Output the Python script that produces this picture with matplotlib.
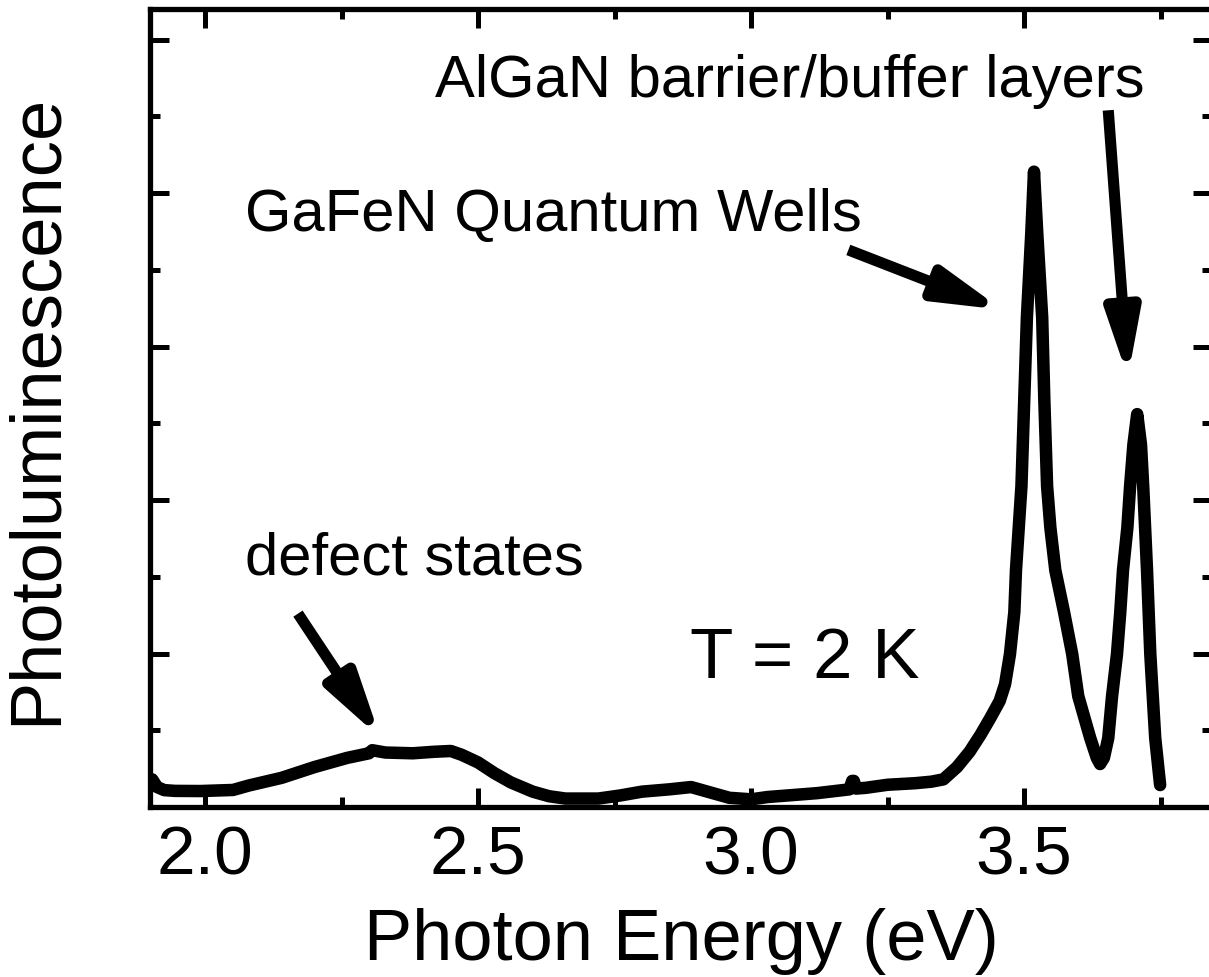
import numpy as np
import matplotlib
matplotlib.use("Agg")
import matplotlib.pyplot as plt
from matplotlib.ticker import MultipleLocator, NullFormatter

plt.rcParams['font.family'] = ['Liberation Sans', 'DejaVu Sans']

# PL spectrum (eV, arb. units)
energy = [1.903, 1.912, 1.925, 1.945, 1.991, 2.051, 2.080, 2.140, 2.200, 2.260,
          2.300, 2.306, 2.330, 2.380, 2.420, 2.450, 2.470, 2.500, 2.530, 2.560,
          2.600, 2.630, 2.660, 2.720, 2.760, 2.800, 2.850, 2.890, 2.920, 2.960,
          3.000, 3.030, 3.120, 3.180, 3.185, 3.188, 3.192, 3.210, 3.250, 3.300,
          3.330, 3.352, 3.377, 3.400, 3.420, 3.438, 3.455, 3.465, 3.474, 3.482,
          3.485, 3.495, 3.500, 3.505, 3.513, 3.518, 3.524, 3.533, 3.537, 3.542,
          3.548, 3.557, 3.573, 3.588, 3.599, 3.621, 3.633, 3.639, 3.646, 3.654,
          3.661, 3.670, 3.676, 3.681, 3.689, 3.694, 3.700, 3.707, 3.714, 3.718,
          3.725, 3.731, 3.740, 3.749]
intensity = [0.18, 0.13, 0.11, 0.105, 0.104, 0.111, 0.14, 0.19, 0.26, 0.32,
             0.35, 0.37, 0.355, 0.35, 0.36, 0.365, 0.34, 0.29, 0.22, 0.16,
             0.10, 0.07, 0.055, 0.055, 0.075, 0.10, 0.115, 0.13, 0.10, 0.06,
             0.05, 0.065, 0.09, 0.115, 0.17, 0.17, 0.12, 0.125, 0.145, 0.155,
             0.165, 0.18, 0.26, 0.36, 0.47, 0.58, 0.69, 0.80, 0.996, 1.27,
             1.543, 2.09, 2.64, 3.19, 3.737, 4.14, 3.737, 3.19, 2.64, 2.09,
             1.82, 1.543, 1.27, 0.996, 0.723, 0.449, 0.32, 0.28, 0.32, 0.449,
             0.723, 0.996, 1.27, 1.543, 1.82, 2.09, 2.36, 2.56, 2.36, 2.09,
             1.543, 0.996, 0.449, 0.143]

x_ticks = [2.0, 2.5, 3.0, 3.5]
x_ticklabels = ["2.0", "2.5", "3.0", "3.5"]

# annotations: text, text position, arrow tail, arrow tip
labels = ["AlGaN barrier/buffer layers", "GaFeN Quantum Wells", "defect states"]
label_pos = [(2.421, 4.63), (2.073, 3.76), (2.073, 1.52)]
arrow_tail = [(3.654, 4.54), (3.178, 3.63), (2.170, 1.26)]
arrow_tip = [(3.690, 2.80), (3.460, 3.24), (2.321, 0.45)]

fig = plt.figure(figsize=(12.09, 9.78), dpi=100)
ax = fig.add_axes([150 / 1209, 170 / 978, 1062 / 1209, 798 / 978])

ax.plot(energy, intensity, color='black', lw=9, solid_joinstyle='round',
        solid_capstyle='round')

ax.set_xlim(1.899, 3.844)
ax.set_ylim(0, 5.2)

ax.xaxis.set_minor_locator(MultipleLocator(0.25))
ax.set_xticks(x_ticks)
ax.set_xticklabels(x_ticklabels)
ax.yaxis.set_major_locator(MultipleLocator(1.0))
ax.yaxis.set_minor_locator(MultipleLocator(0.5))
ax.yaxis.set_major_formatter(NullFormatter())

ax.tick_params(which='both', direction='in', top=True, right=True, width=3.6)
ax.tick_params(which='major', length=14, labelsize=50, pad=12)
ax.tick_params(which='minor', length=7)
for s in ax.spines.values():
    s.set_linewidth(3.8)

ax.set_xlabel("Photon Energy (eV)", fontsize=52, labelpad=14)
ax.set_ylabel("Photoluminescence", fontsize=52, labelpad=45)

for txt, pos in zip(labels, label_pos):
    ax.text(pos[0], pos[1], txt, fontsize=43, va='baseline', ha='left')

ax.text(2.888, 0.85, "T = 2 K", fontsize=51, va='baseline', ha='left')

for tail, tip in zip(arrow_tail, arrow_tip):
    ax.annotate("", xy=tip, xytext=tail,
                arrowprops=dict(arrowstyle='-|>,head_length=0.38,head_width=0.10',
                                lw=8, color='black', mutation_scale=100,
                                shrinkA=0, shrinkB=0, joinstyle='round',
                                capstyle='butt'))

fig.savefig("out.png", dpi=100)
